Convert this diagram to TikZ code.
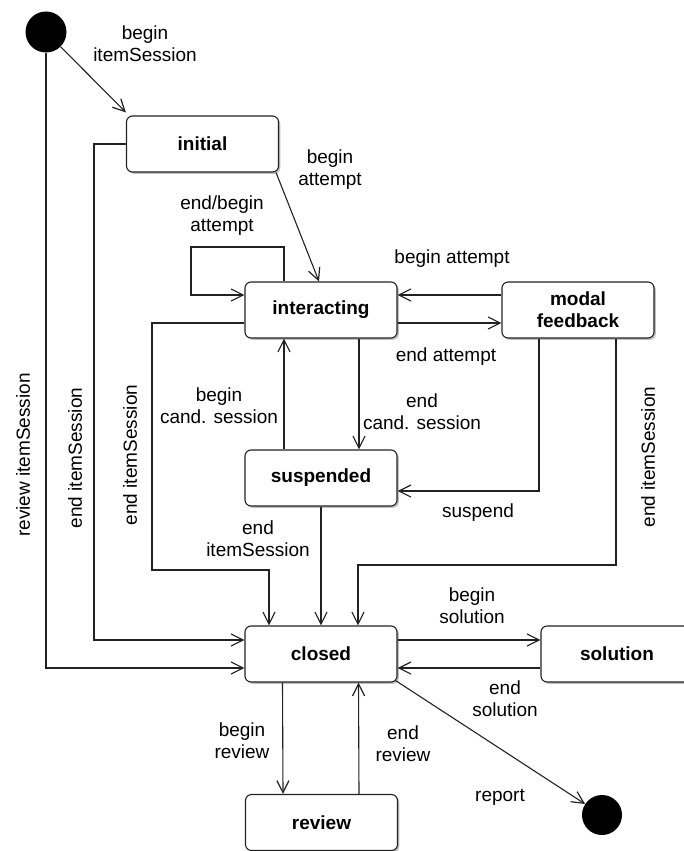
\documentclass[tikz,border=0pt]{standalone}
\usepackage{fontspec}
\setmainfont{Liberation Sans}
\usetikzlibrary{arrows.meta,shadows}
\definecolor{ink}{HTML}{222222}
\newcommand\lblfont{\fontsize{19}{22}\selectfont}
\tikzset{
  state/.style={draw=ink, line width=1.1pt, rounded corners=6pt, fill=white,
    minimum width=152pt, minimum height=56pt, align=center, inner sep=2pt,
    font=\lblfont\bfseries, drop shadow={shadow xshift=1.8pt, shadow yshift=-1.8pt, fill=black, opacity=0.25}},
  dot/.style={circle, fill=black, draw=none, inner sep=0pt, minimum size=41pt},
  arr/.style={draw=ink, line width=1.1pt, -{Straight Barb[length=12pt,width=12pt,line width=1.2pt]}},
  lbl/.style={align=center, inner sep=0pt, font=\lblfont},
}
\begin{document}
\begin{tikzpicture}[x=1pt,y=-1pt]
\path[use as bounding box] (0,0) rectangle (684,851);
\clip (0,0) rectangle (684,851);

% states
\node[dot] (start) at (46,32) {};
\node[state] (initial) at (202.5,144) {initial};
\node[state] (interacting) at (321,310) {interacting};
\node[state] (modal) at (578,310) {modal\\feedback};
\node[state] (suspended) at (321,478) {suspended};
\node[state] (closed) at (321,654) {closed};
\node[state] (solution) at (617,654) {solution};
\node[state] (review) at (321.5,822.5) {review};
\node[dot, minimum size=40pt] (end) at (602,815) {};

% bend points of the routed transitions
\coordinate (loopc) at (191,247);
\coordinate (eisA) at (152,570);
\coordinate (eisB) at (616,565);

% transitions
\draw[arr] (start) -- ([yshift=3pt]initial.north west);
\draw[arr] (start.south) |- ([yshift=-14pt]closed.west);
\draw[arr] (initial.west) -- ++(-32,0) |- ([yshift=14pt]closed.west);
\draw[arr] ([xshift=-3pt]initial.south east) -- ([xshift=-2pt]interacting.north);
\draw[arr] ([xshift=-37pt]interacting.north) |- (loopc) |- ([yshift=15pt]interacting.west);
\draw[arr] ([yshift=15pt]modal.west) -- ([yshift=15pt]interacting.east);
\draw[arr] ([yshift=-13pt]interacting.east) -- ([yshift=-13pt]modal.west);
\draw[arr] ([yshift=-13pt]interacting.west) -| (eisA) -| ([xshift=-52pt]closed.north);
\draw[arr] ([xshift=38pt]interacting.south) -- ([xshift=38pt]suspended.north);
\draw[arr] ([xshift=-37pt]suspended.north) -- ([xshift=-37pt]interacting.south);
\draw[arr] ([xshift=-39pt]modal.south) |- ([yshift=-13pt]suspended.east);
\draw[arr] ([xshift=38pt]modal.south) |- (eisB) -| ([xshift=37pt]closed.north);
\draw[arr] (suspended.south) -- (closed.north);
\draw[arr] ([yshift=14pt]closed.east) -- ([yshift=14pt]solution.west);
\draw[arr] ([yshift=-14pt]solution.west) -- ([yshift=-14pt]closed.east);
\draw[arr] ([xshift=-38.5pt]closed.south) -- ([xshift=-38.5pt]review.north);
\draw[arr] ([xshift=37.5pt]review.north) -- ([xshift=37.5pt]closed.south);
\draw[arr] ([xshift=-2pt,yshift=2pt]closed.south east) -- (end);

% transition labels
\node[lbl] (l1) at (145,44) {begin\\itemSession};
\node[lbl] (l2) at (330,170) {begin\\attempt};
\node[lbl] (l3) at (222,216) {end/begin\\attempt};
\node[lbl] (l4) at (452,259) {begin attempt};
\node[lbl] (l5) at (446,357) {end attempt};
\node[lbl] (l6) at (219,406) {begin\\cand. session};
\node[lbl] (l7) at (422,412) {end\\cand. session};
\node[lbl] (l8) at (478,513) {suspend};
\node[lbl] (l9) at (258,539) {end\\itemSession};
\node[lbl] (l10) at (472,606) {begin\\solution};
\node[lbl] (l11) at (505,699) {end\\solution};
\node[lbl] (l12) at (242,741) {begin\\review};
\node[lbl] (l13) at (403,744) {end\\review};
\node[lbl] (l14) at (500,797) {report};
\node[lbl, rotate=90] (l15) at (23,455) {review itemSession};
\node[lbl, rotate=90] (l16) at (75,458) {end itemSession};
\node[lbl, rotate=90] (l17) at (130,455) {end itemSession};
\node[lbl, rotate=90] (l18) at (648,457) {end itemSession};
\end{tikzpicture}
\end{document}
